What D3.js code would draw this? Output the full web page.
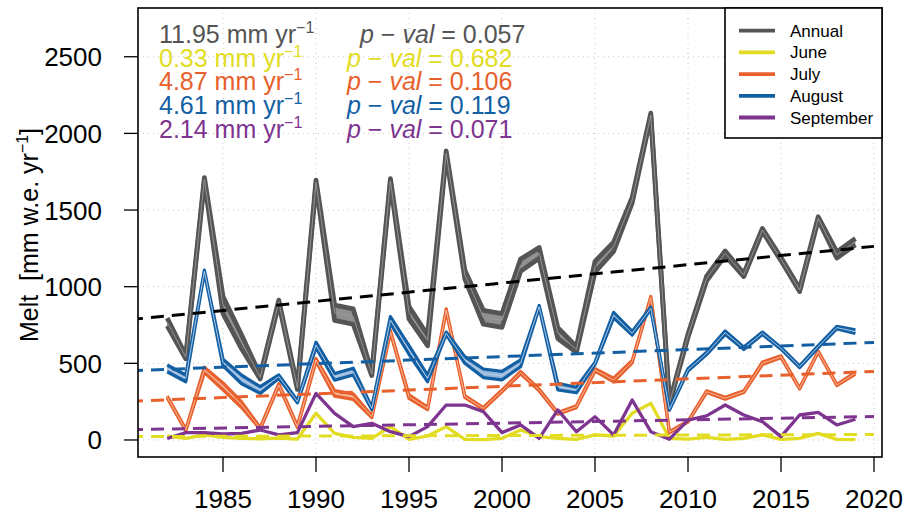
<!DOCTYPE html>
<html>
<head>
<meta charset="utf-8">
<script src="https://cdn.jsdelivr.net/npm/d3@7/dist/d3.min.js"></script>
<style>
  body { margin: 0; background: #fff; }
  svg { font-family: "Liberation Sans", Arial, Helvetica, sans-serif; }
</style>
</head>
<body>
<svg id="chart" width="904" height="518"></svg>
<script>
// Melt series, mm w.e. per year
const years = [1982, 1983, 1984, 1985, 1986, 1987, 1988, 1989, 1990, 1991,
               1992, 1993, 1994, 1995, 1996, 1997, 1998, 1999, 2000, 2001,
               2002, 2003, 2004, 2005, 2006, 2007, 2008, 2009, 2010, 2011,
               2012, 2013, 2014, 2015, 2016, 2017, 2018, 2019];

const annual = [770, 540, 1700, 880, 640, 410, 900, 340, 1680, 830,
                805, 430, 1690, 830, 650, 1870, 1080, 800, 780, 1140,
                1220, 697, 590, 1130, 1260, 1565, 2120, 240, 680, 1054,
                1218, 1076, 1370, 1180, 978, 1446, 1207, 1294];
const annualUnc = [25, 10, 12, 55, 45, 12, 12, 10, 15, 50,
                   50, 10, 15, 40, 35, 15, 28, 45, 45, 40,
                   35, 35, 18, 35, 30, 18, 12, 6, 10, 15,
                   15, 10, 10, 10, 10, 10, 20, 20];

const june = [26, 11, 33, 17, 10, 8, 12, 6, 174, 43,
              17, 11, 87, 4, 26, 87, 4, 2, 11, 65,
              22, 11, 4, 33, 26, 174, 239, 11, 5, 17,
              4, 11, 33, 4, 11, 43, 4, 2];

const july = [280, 65, 457, 350, 230, 76, 359, 87, 522, 304,
              283, 152, 707, 283, 206, 848, 283, 206, 320, 439,
              326, 174, 217, 457, 391, 511, 930, 50, 120, 315,
              272, 315, 500, 543, 337, 576, 359, 435];
const julyUnc = [6, 6, 18, 22, 18, 6, 8, 6, 10, 18,
                 18, 6, 8, 12, 8, 8, 6, 6, 6, 8,
                 6, 6, 6, 8, 12, 8, 6, 4, 4, 6,
                 6, 6, 8, 6, 4, 4, 4, 6];

const august = [467, 402, 1100, 505, 395, 326, 413, 250, 620, 412,
                446, 206, 783, 587, 402, 696, 522, 435, 420, 500,
                870, 348, 326, 500, 815, 696, 859, 200, 457, 565,
                700, 598, 696, 598, 478, 609, 733, 707];
const augustUnc = [22, 22, 8, 22, 28, 22, 12, 8, 18, 22,
                   22, 8, 22, 28, 22, 8, 22, 28, 28, 22,
                   8, 22, 18, 8, 18, 12, 8, 6, 8, 8,
                   12, 8, 8, 6, 6, 6, 8, 12];

const september = [10, 48, 48, 39, 43, 65, 33, 48, 304, 174,
                   87, 109, 54, 22, 87, 228, 228, 185, 48, 98,
                   11, 196, 54, 152, 33, 261, 54, 5, 130, 157,
                   228, 163, 120, 22, 163, 180, 98, 135];

// Linear trends: slope (mm/yr) and fitted value in 2000
const seriesNames = ['Annual', 'June', 'July', 'August', 'September'];
const seriesColors = ['#555555', '#e2dc22', '#e8602c', '#135fa3', '#7e3590'];
const trendSlopes = [11.95, 0.33, 4.87, 4.61, 2.14];
const trendAt2000 = [1024, 29, 350, 544, 110];
const pValues = ['0.057', '0.682', '0.106', '0.119', '0.071'];

const yTicks = [0, 500, 1000, 1500, 2000, 2500];
const xTicks = [1985, 1990, 1995, 2000, 2005, 2010, 2015, 2020];

const svg = d3.select('#chart');
const box = { left: 138, right: 882, top: 8, bottom: 457 };

const x = d3.scaleLinear().domain([1980.43, 2020.43]).range([box.left, box.right]);
const y = d3.scaleLinear().domain([-111, 2818]).range([box.bottom, box.top]);

svg.append('defs').append('clipPath').attr('id', 'plot-clip')
    .append('rect')
    .attr('x', box.left).attr('y', box.top)
    .attr('width', box.right - box.left).attr('height', box.bottom - box.top);

// Dotted grid
const grid = svg.append('g');
grid.selectAll('line.gx').data(xTicks).enter().append('line')
    .attr('x1', d => x(d)).attr('x2', d => x(d))
    .attr('y1', box.top).attr('y2', box.bottom)
    .attr('stroke', '#c8c8c8').attr('stroke-width', 1).attr('stroke-dasharray', '1,4');
grid.selectAll('line.gy').data(yTicks).enter().append('line')
    .attr('x1', box.left).attr('x2', box.right)
    .attr('y1', d => y(d)).attr('y2', d => y(d))
    .attr('stroke', '#c8c8c8').attr('stroke-width', 1).attr('stroke-dasharray', '1,4');

const plot = svg.append('g').attr('clip-path', 'url(#plot-clip)');

function drawBand(values, unc, color, fill, mid, width) {
    const pts = years.map((yr, i) => ({ yr, v: values[i], u: unc[i] }));
    const area = d3.area()
        .x(d => x(d.yr))
        .y0(d => y(d.v - d.u))
        .y1(d => y(d.v + d.u));
    plot.append('path').datum(pts).attr('d', area).attr('fill', fill);
    [-1, 1].forEach(s => {
        const edge = d3.line().x(d => x(d.yr)).y(d => y(d.v + s * d.u));
        plot.append('path').datum(pts).attr('d', edge)
            .attr('fill', 'none').attr('stroke', color)
            .attr('stroke-width', width).attr('stroke-linejoin', 'round');
    });
    const centre = d3.line().x(d => x(d.yr)).y(d => y(d.v));
    plot.append('path').datum(pts).attr('d', centre)
        .attr('fill', 'none').attr('stroke', mid).attr('stroke-width', 0.9);
}

function drawLine(values, color) {
    const line = d3.line().x((d, i) => x(years[i])).y(d => y(d));
    plot.append('path').datum(values).attr('d', line)
        .attr('fill', 'none').attr('stroke', color)
        .attr('stroke-width', 3.3).attr('stroke-linejoin', 'round');
}

drawBand(annual, annualUnc, '#555555', '#8f8f8f', '#9a9a9a', 4.8);
drawLine(june, seriesColors[1]);
drawBand(july, julyUnc, seriesColors[2], '#f2a988', '#f7c2aa', 3.2);
drawBand(august, augustUnc, seriesColors[3], '#94b6da', '#bcd3ec', 3.2);
drawLine(september, seriesColors[4]);

// Dashed trend lines
const trendColors = ['#000000', seriesColors[1], seriesColors[2], seriesColors[3], seriesColors[4]];
trendSlopes.forEach((slope, i) => {
    const ends = [1980, 2020];
    plot.append('line')
        .attr('x1', x(ends[0])).attr('x2', x(ends[1]))
        .attr('y1', y(trendAt2000[i] + slope * (ends[0] - 2000)))
        .attr('y2', y(trendAt2000[i] + slope * (ends[1] - 2000)))
        .attr('stroke', trendColors[i])
        .attr('stroke-width', 3)
        .attr('stroke-dasharray', '13,8');
});

// Axes
const yAxis = svg.append('g');
yAxis.selectAll('line').data(yTicks).enter().append('line')
    .attr('x1', box.left - 14).attr('x2', box.left)
    .attr('y1', d => y(d)).attr('y2', d => y(d))
    .attr('stroke', '#000').attr('stroke-width', 1.3);
yAxis.selectAll('text').data(yTicks).enter().append('text')
    .attr('x', 102).attr('y', d => y(d) + 9.5)
    .attr('text-anchor', 'end').attr('font-size', 26)
    .text(d => d);

const xAxis = svg.append('g');
xAxis.selectAll('line').data(xTicks).enter().append('line')
    .attr('x1', d => x(d)).attr('x2', d => x(d))
    .attr('y1', box.bottom).attr('y2', box.bottom + 15)
    .attr('stroke', '#000').attr('stroke-width', 1.3);
xAxis.selectAll('text').data(xTicks).enter().append('text')
    .attr('x', d => x(d)).attr('y', 508)
    .attr('text-anchor', 'middle').attr('font-size', 26)
    .text(d => d);

svg.append('rect')
    .attr('x', box.left).attr('y', box.top)
    .attr('width', box.right - box.left).attr('height', box.bottom - box.top)
    .attr('fill', 'none').attr('stroke', '#000').attr('stroke-width', 1.6);

// Y title (two spaces after "Melt", as in the original)
const yTitle = svg.append('text')
    .attr('transform', 'translate(38,235) rotate(-90)')
    .attr('text-anchor', 'middle').attr('font-size', 25);
yTitle.append('tspan').text('Melt \u00a0[mm w.e. yr');
yTitle.append('tspan').attr('dy', -10).attr('font-size', 16).text('\u22121');
yTitle.append('tspan').attr('dy', 10).text(']');

// Trend annotations
const notes = svg.append('g').attr('font-size', 25);
trendSlopes.forEach((slope, i) => {
    const base = 43 + i * 23.7;
    const c = seriesColors[i];
    const t = notes.append('text').attr('x', 159).attr('y', base).attr('fill', c);
    t.append('tspan').text(slope.toFixed(2) + ' mm yr');
    t.append('tspan').attr('dy', -10).attr('font-size', 16).text('\u22121');

    const p = notes.append('text').attr('x', i === 0 ? 360 : 347).attr('y', base).attr('fill', c);
    p.append('tspan').attr('font-style', 'italic').text('p');
    p.append('tspan').text(' \u2212 ');
    p.append('tspan').attr('font-style', 'italic').text('val');
    p.append('tspan').text(' = ' + pValues[i]);
});

// Legend
const legend = svg.append('g');
legend.append('rect')
    .attr('x', 725).attr('y', box.top)
    .attr('width', box.right - 725).attr('height', 130)
    .attr('fill', '#fff').attr('stroke', '#000').attr('stroke-width', 1.6);
const items = legend.selectAll('g.item').data(seriesNames).enter().append('g')
    .attr('transform', (d, i) => `translate(0,${30.7 + i * 21.7})`);
items.append('line')
    .attr('x1', 739).attr('x2', 775)
    .attr('stroke', (d, i) => seriesColors[i]).attr('stroke-width', 3.8);
items.append('text')
    .attr('x', 790).attr('y', 6)
    .attr('font-size', 17)
    .text(d => d);
</script>
</body>
</html>
